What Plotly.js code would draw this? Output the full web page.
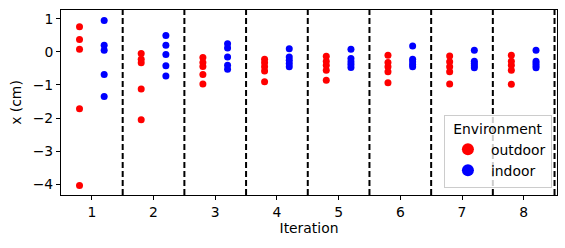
<!DOCTYPE html>
<html>
<head>
<meta charset="utf-8">
<script src="https://cdn.plot.ly/plotly-3.0.1.min.js"></script>
<style>
  html, body { margin: 0; padding: 0; background: white; }
  #chart { width: 565px; height: 248px; }
</style>
</head>
<body>
<div id="chart"></div>
<script>
// Strip plot: displacement per iteration, outdoor vs indoor, dodged.

const ITERATIONS = [1, 2, 3, 4, 5, 6, 7, 8];

const OUTDOOR = [
  [0.76, 0.38, 0.08, -1.72, -4.04],
  [-0.05, -0.22, -0.33, -1.12, -2.05],
  [-0.17, -0.32, -0.44, -0.68, -0.97],
  [-0.22, -0.33, -0.45, -0.58, -0.90],
  [-0.13, -0.28, -0.40, -0.55, -0.86],
  [-0.10, -0.32, -0.45, -0.60, -0.93],
  [-0.12, -0.30, -0.45, -0.60, -0.97],
  [-0.10, -0.28, -0.40, -0.55, -0.98],
];

const INDOOR = [
  [0.95, 0.20, 0.05, -0.68, -1.35],
  [0.50, 0.20, -0.08, -0.42, -0.73],
  [0.25, 0.12, -0.15, -0.40, -0.52],
  [0.10, -0.15, -0.25, -0.35, -0.45],
  [0.08, -0.20, -0.30, -0.38, -0.47],
  [0.18, -0.22, -0.30, -0.38, -0.45],
  [0.05, -0.28, -0.35, -0.42, -0.48],
  [0.05, -0.28, -0.35, -0.42, -0.48],
];

const DODGE = 0.2;
const FONT = "DejaVu Sans, sans-serif";
const FS = 13.9;

function stripTrace(name, groups, offset, color) {
  const x = [], y = [];
  groups.forEach((vals, i) => {
    vals.forEach((v) => { x.push(ITERATIONS[i] + offset); y.push(v); });
  });
  return {
    type: "scatter", mode: "markers", name, x, y,
    marker: { color, size: 7 },
    hoverinfo: "skip",
  };
}

const traces = [
  stripTrace("outdoor", OUTDOOR, -DODGE, "#ff0000"),
  stripTrace("indoor", INDOOR, DODGE, "#0000ff"),
];

// dashed separators between iterations
const shapes = ITERATIONS.map((it) => ({
  type: "line", xref: "x", yref: "paper",
  x0: it + 0.5, x1: it + 0.5, y0: 0, y1: 1,
  line: { color: "black", width: 2, dash: "6px,3px" },
}));

const axisCommon = {
  showline: true, mirror: true, linecolor: "black", linewidth: 1,
  ticks: "outside", ticklen: 4, tickcolor: "black",
  showgrid: false, zeroline: false,
  tickfont: { family: FONT, size: FS, color: "black" },
};

const layout = {
  width: 565, height: 248,
  margin: { l: 61, r: 8, t: 10, b: 53 },
  paper_bgcolor: "white", plot_bgcolor: "white",
  font: { family: FONT, size: FS, color: "black" },
  showlegend: true,
  xaxis: {
    ...axisCommon,
    range: [0.5, 8.54],
    tickmode: "array", tickvals: ITERATIONS, ticktext: ITERATIONS.map(String),
    title: { text: "Iteration", font: { family: FONT, size: FS }, standoff: 3 },
  },
  yaxis: {
    ...axisCommon,
    range: [-4.33, 1.27],
    tickmode: "linear", tick0: 0, dtick: 1,
    title: { text: "x (cm)", font: { family: FONT, size: FS }, standoff: 7 },
  },
  legend: {
    x: 0.772, y: 0.04, xanchor: "left", yanchor: "bottom",
    bgcolor: "rgba(255,255,255,0.8)", bordercolor: "#cccccc", borderwidth: 1,
    itemsizing: "constant", itemwidth: 36,
    font: { family: FONT, size: FS },
    title: { text: "Environment", side: "top center", font: { family: FONT, size: FS } },
  },
  shapes,
};

Plotly.newPlot("chart", traces, layout, { displayModeBar: false, staticPlot: true });
</script>
</body>
</html>
